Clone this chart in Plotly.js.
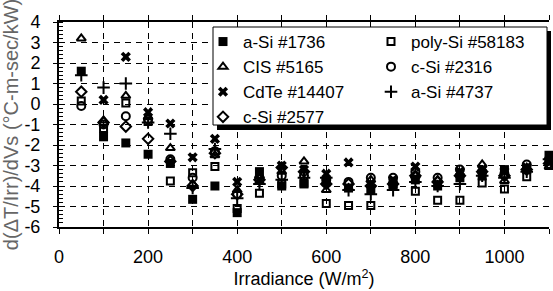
<!DOCTYPE html>
<html><head><meta charset="utf-8">
<script src="https://cdn.plot.ly/plotly-3.0.1.min.js"></script>
<style>html,body{margin:0;padding:0;background:#fff;}#chart{width:553px;height:291px;}</style>
</head><body><div id="chart"></div>
<script>
const irradiance = [50,100,150,200,250,300,350,400,450,500,550,600,650,700,750,800,850,900,950,1000,1050,1100];
const aSi1736   = [1.6,-1.6,-1.9,-2.45,-2.9,-4.65,-4.0,-5.3,-3.3,-4.0,-3.9,-3.8,-4.1,-4.2,-4.0,-3.7,-4.0,-3.6,-3.5,-3.2,-3.2,-2.5];
const polySi    = [0.15,-1.2,0.05,-0.85,-3.75,-3.35,-3.05,-5.1,-4.35,-3.9,-3.85,-4.85,-4.95,-4.95,-3.9,-4.25,-4.7,-4.7,-3.85,-4.15,-3.55,-3.0];
const cis5165   = [3.2,-0.8,0.4,-0.65,-2.15,-3.9,-2.5,-4.2,-3.5,-3.3,-2.8,-4.2,-4.1,-3.7,-3.8,-3.5,-3.7,-3.4,-2.95,-3.75,-3.1,-3.05];
const cSi2316   = [-0.1,-1.0,-0.6,-0.75,-2.7,-3.6,-2.3,-4.4,-3.6,-3.5,-3.5,-3.7,-3.8,-3.6,-3.6,-3.3,-3.6,-3.2,-3.3,-3.4,-2.95,-2.7];
const cdTe      = [null,0.2,2.3,-0.4,-0.95,-2.6,-1.7,-3.8,-3.7,-3.0,-3.2,-3.4,-2.85,-3.9,-3.7,-3.05,-3.9,-3.3,-3.2,-3.3,-3.1,-2.8];
const aSi4737   = [1.4,0.8,1.0,-0.9,-1.45,-4.1,-2.2,-4.6,-3.9,-3.7,-3.6,-3.6,-4.2,-4.4,-4.2,-3.8,-4.0,-3.9,-3.5,-3.6,-3.3,-2.7];
const cSi2577   = [0.6,-0.9,-1.1,-1.7,-2.8,-4.0,-2.4,-4.4,-3.7,-3.1,-3.3,-3.9,-3.9,-4.0,-3.9,-3.5,-3.8,-3.5,-3.3,-3.5,-3.2,-2.9];

const xTickVals = [0,200,400,600,800,1000];
const xTickText = ['0','200','400','600','800','1000'];
const yTickVals = [-6,-5,-4,-3,-2,-1,0,1,2,3,4];
const yTickText = ['-6','-5','-4','-3','-2','-1','0','1','2','3','4'];

const FONT = 'Arial, Liberation Sans, sans-serif';

function tr(name, y, symbol, size, legend) {
  const open = symbol.indexOf('open') >= 0;
  return {
    type: 'scatter', mode: 'markers', name: name, x: irradiance, y: y,
    cliponaxis: false, legend: legend, legendgroup: name,
    marker: { symbol: symbol, size: size, color: '#000',
      line: { color: '#000', width: open ? 2 : 0 } }
  };
}

const data = [
  tr('a-Si #1736', aSi1736, 'square', 9, 'legend'),
  tr('CIS #5165', cis5165, 'triangle-up-open', 8, 'legend'),
  tr('CdTe #14407', cdTe, 'x', 9, 'legend'),
  tr('c-Si #2577', cSi2577, 'diamond-open', 8, 'legend'),
  tr('poly-Si #58183', polySi, 'square-open', 7, 'legend2'),
  tr('c-Si #2316', cSi2316, 'circle-open', 8, 'legend2'),
  tr('a-Si #4737', aSi4737, 'cross-thin-open', 9, 'legend2')
];

const L = 59, R = 549, T = 22, B = 227;
const px = v => (v - L) / (R - L);
const py = v => (B - v) / (B - T);

const legendCommon = {
  font: { family: FONT, size: 17, color: '#000' },
  bgcolor: 'rgba(0,0,0,0)', borderwidth: 0,
  xanchor: 'left', yanchor: 'top', tracegroupgap: 0,
  itemwidth: 30
};

const layout = {
  width: 553, height: 291,
  margin: { l: L, r: 553 - R, t: T, b: 291 - B, pad: 0 },
  paper_bgcolor: '#fff', plot_bgcolor: '#fff',
  font: { family: FONT, size: 18, color: '#000' },
  showlegend: true,
  xaxis: {
    range: [0, 1100], tickvals: xTickVals, ticktext: xTickText,
    showline: true, linecolor: '#000', linewidth: 2, mirror: 'ticks',
    ticks: 'outside', ticklen: 5, tickwidth: 1, tickcolor: '#000',
    showgrid: true, gridcolor: '#000', gridwidth: 1, griddash: '6px,5px',
    zeroline: false, ticklabelstandoff: 7,
    minor: { dtick: 100, tick0: 0, showgrid: true, gridcolor: '#000', gridwidth: 1, griddash: '6px,5px', ticks: 'outside', ticklen: 5, tickcolor: '#000' },
    tickfont: { family: FONT, size: 18, color: '#000' },
    title: { text: 'Irradiance (W/m<sup>2</sup>)', font: { family: FONT, size: 18, color: '#000' }, standoff: 6 }
  },
  yaxis: {
    range: [-6, 4], tickvals: yTickVals, ticktext: yTickText,
    showline: true, linecolor: '#000', linewidth: 2, mirror: false,
    ticks: 'outside', ticklen: 4, tickwidth: 1, tickcolor: '#000',
    showgrid: true, gridcolor: '#000', gridwidth: 1, griddash: '6px,5px',
    zeroline: false, ticklabelstandoff: 9,
    minor: { dtick: 0.2, tick0: 0, showgrid: false, ticks: 'inside', ticklen: 4, tickcolor: '#000', tickwidth: 1 },
    tickfont: { family: FONT, size: 18, color: '#000' },
    title: { text: 'd(ΔT/Irr)/dVs (°C-m-sec/kW)', font: { family: FONT, size: 20, color: '#666' }, standoff: 1 }
  },
  legend: Object.assign({}, legendCommon, { x: px(203), y: py(24) }),
  legend2: Object.assign({}, legendCommon, { x: px(371), y: py(24) }),
  shapes: [
    { type: 'rect', xref: 'paper', yref: 'paper', layer: 'above',
      x0: px(217), x1: px(551), y0: py(130), y1: py(31),
      fillcolor: '#000', line: { width: 0 } },
    { type: 'rect', xref: 'paper', yref: 'paper', layer: 'above',
      x0: px(213), x1: px(547), y0: py(125), y1: py(27),
      fillcolor: '#fff', line: { color: '#000', width: 1 } }
  ]
};

Plotly.newPlot('chart', data, layout, { staticPlot: true, displayModeBar: false });
</script>
</body></html>
